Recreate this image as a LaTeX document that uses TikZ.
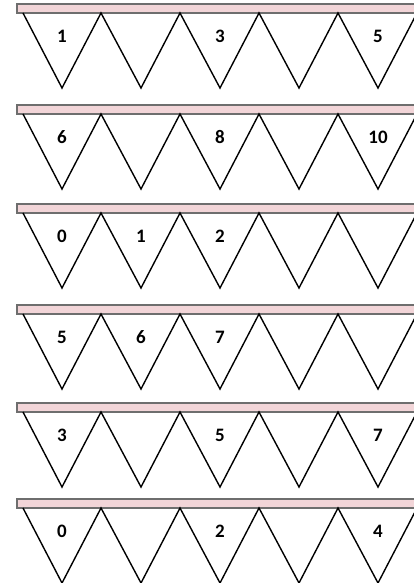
\documentclass[tikz,border=0pt]{standalone}
\usepackage{fontspec}
\setmainfont{Carlito}
\usepackage{xcolor}
\definecolor{ropepink}{HTML}{F2D5D8}
\definecolor{ropegray}{HTML}{6E6E6E}
\begin{document}
\begin{tikzpicture}[x=1pt,y=-1pt,font=\bfseries\fontsize{19}{19}\selectfont]
  \useasboundingbox (0,0) rectangle (414,583);
  \clip (0,0) rectangle (414,583);
  \tikzset{rope/.style={fill=ropepink, draw=ropegray, line width=1.1pt},
           flags/.style={line width=1.4pt, line join=miter}}
  \foreach \t/\labs [count=\r] in {4/{1,,3,,5},105/{6,,8,,10},204/{0,1,2,,},305/{5,6,7,,},403/{3,,5,,7},499/{0,,2,,4}}{
    \draw[rope] (17,\t) rectangle (420,\t+9);
    \draw[flags] (23,\t+9) \foreach \k in {0,...,4}{ -- ({62+79*\k},\t+84) -- ({101+79*\k},\t+9) };
    \foreach \lab [count=\i] in \labs
      \node (lab-\r-\i) at ({62+79*(\i-1)},\t+32) {\lab};
  }
\end{tikzpicture}
\end{document}
